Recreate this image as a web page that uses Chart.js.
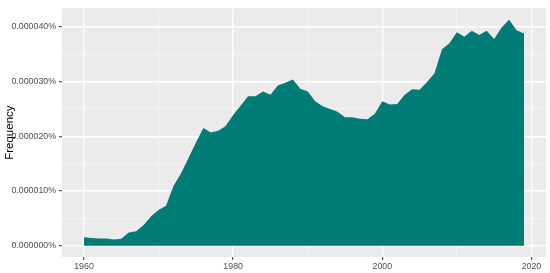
<!DOCTYPE html>
<html>
<head>
<meta charset="utf-8">
<script src="https://cdn.jsdelivr.net/npm/chart.js@4"></script>
<style>
  html, body { margin: 0; padding: 0; background: #ffffff; }
  #wrap { width: 550px; height: 273px; }
</style>
</head>
<body>
<div id="wrap"><canvas id="c" width="550" height="273"></canvas></div>
<script>
const years = [1960,1961,1962,1963,1964,1965,1966,1967,1968,1969,
               1970,1971,1972,1973,1974,1975,1976,1977,1978,1979,
               1980,1981,1982,1983,1984,1985,1986,1987,1988,1989,
               1990,1991,1992,1993,1994,1995,1996,1997,1998,1999,
               2000,2001,2002,2003,2004,2005,2006,2007,2008,2009,
               2010,2011,2012,2013,2014,2015,2016,2017,2018,2019];
// frequency in percent
const frequency = [0.00000155,0.00000140,0.00000130,0.00000130,0.00000115,0.00000125,0.00000240,0.00000265,0.00000380,0.00000540,
                   0.00000650,0.00000730,0.00001090,0.00001320,0.00001600,0.00001880,0.00002150,0.00002070,0.00002100,0.00002190,
                   0.00002390,0.00002560,0.00002730,0.00002730,0.00002820,0.00002760,0.00002930,0.00002980,0.00003040,0.00002870,
                   0.00002820,0.00002640,0.00002550,0.00002500,0.00002450,0.00002350,0.00002350,0.00002320,0.00002310,0.00002410,
                   0.00002640,0.00002580,0.00002590,0.00002760,0.00002860,0.00002850,0.00002990,0.00003150,0.00003590,0.00003700,
                   0.00003900,0.00003820,0.00003930,0.00003850,0.00003930,0.00003780,0.00003990,0.00004130,0.00003940,0.00003880];
const xMajorTicks = [1960, 1980, 2000, 2020];
const xMinorTicks = [1970, 1990, 2010];
const yMajorTicks = [0, 0.00001, 0.00002, 0.00003, 0.00004];
const yMinorTicks = [0.000005, 0.000015, 0.000025, 0.000035];

const isMajor = (list, v) => list.some(t => Math.abs(t - v) < 1e-12);

const panelBg = {
  id: 'panelBg',
  beforeDraw(chart) {
    const {ctx, chartArea: a} = chart;
    ctx.save();
    ctx.fillStyle = '#EBEBEB';
    ctx.fillRect(a.left, a.top, a.right - a.left, a.bottom - a.top);
    ctx.restore();
  }
};

new Chart(document.getElementById('c'), {
  type: 'line',
  data: {
    datasets: [{
      data: years.map((y, i) => ({x: y, y: frequency[i]})),
      fill: 'origin',
      backgroundColor: '#007C77',
      borderWidth: 0,
      borderColor: 'rgba(0,0,0,0)',
      pointRadius: 0,
      tension: 0
    }]
  },
  options: {
    responsive: false,
    animation: false,
    devicePixelRatio: 1,
    layout: { padding: { top: 3, right: 4, left: 0, bottom: 0 } },
    plugins: { legend: { display: false }, tooltip: { enabled: false } },
    scales: {
      x: {
        type: 'linear',
        min: 1957.05,
        max: 2021.95,
        afterBuildTicks(scale) {
          scale.ticks = xMajorTicks.concat(xMinorTicks).sort((a, b) => a - b).map(v => ({value: v}));
        },
        afterFit(scale) { scale.height = 16; },
        border: { display: false },
        grid: {
          color: c => isMajor(xMajorTicks, c.tick.value) ? '#FFFFFF' : 'rgba(255,255,255,0.6)',
          lineWidth: c => isMajor(xMajorTicks, c.tick.value) ? 1.4 : 0.8,
          tickColor: c => isMajor(xMajorTicks, c.tick.value) ? '#333333' : 'rgba(0,0,0,0)',
          tickLength: 3,
          tickWidth: 1
        },
        ticks: {
          autoSkip: false,
          maxRotation: 0,
          padding: 1,
          color: '#4D4D4D',
          font: { family: 'Liberation Sans', size: 8.8 },
          callback: v => isMajor(xMajorTicks, v) ? String(v) : ''
        }
      },
      y: {
        type: 'linear',
        min: -0.00000207,
        max: 0.0000434,
        afterBuildTicks(scale) {
          scale.ticks = yMajorTicks.concat(yMinorTicks).sort((a, b) => a - b).map(v => ({value: v}));
        },
        afterFit(scale) { scale.width = 62; },
        border: { display: false },
        grid: {
          color: c => isMajor(yMajorTicks, c.tick.value) ? '#FFFFFF' : 'rgba(255,255,255,0.6)',
          lineWidth: c => isMajor(yMajorTicks, c.tick.value) ? 1.4 : 0.8,
          tickColor: c => isMajor(yMajorTicks, c.tick.value) ? '#333333' : 'rgba(0,0,0,0)',
          tickLength: 3,
          tickWidth: 1
        },
        title: {
          display: true,
          text: 'Frequency',
          color: '#000000',
          font: { family: 'Liberation Sans', size: 11.5 },
          padding: { top: 3, bottom: 0 }
        },
        ticks: {
          autoSkip: false,
          padding: 3,
          color: '#4D4D4D',
          font: { family: 'Liberation Sans', size: 8.8 },
          callback: v => isMajor(yMajorTicks, v) ? v.toFixed(6) + '%' : ''
        }
      }
    }
  },
  plugins: [panelBg]
});
</script>
</body>
</html>
